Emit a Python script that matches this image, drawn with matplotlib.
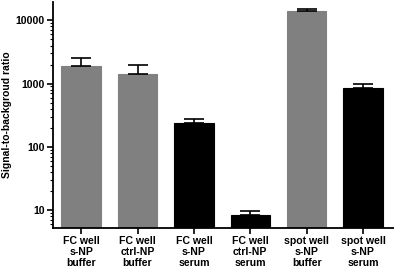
import numpy as np
import matplotlib
matplotlib.use("Agg")
import matplotlib.pyplot as plt
import matplotlib.ticker as plticker

plt.rcParams['font.family'] = ['Liberation Sans', 'DejaVu Sans']
plt.rcParams['font.weight'] = 'bold'

# bar labels and read-off values
labels = ["FC well\ns-NP\nbuffer", "FC well\nctrl-NP\nbuffer", "FC well\ns-NP\nserum",
          "FC well\nctrl-NP\nserum", "spot well\ns-NP\nbuffer", "spot well\ns-NP\nserum"]
values = [1870, 1430, 236, 8.3, 13900, 855]
errors = [670, 510, 37, 1.3, 1400, 135]
colors = ["#808080", "#808080", "black", "black", "#808080", "black"]

fig = plt.figure(figsize=(3.94, 2.68), dpi=100)
ax = fig.add_axes([0.1345, 0.149, 0.8655, 0.8435])

x = np.arange(len(values))
ax.bar(x, values, width=0.7, color=colors, edgecolor=colors, linewidth=0.8, zorder=2)
ax.errorbar(x, values, yerr=[np.zeros(len(errors)), errors], fmt='none',
            ecolor='black', elinewidth=1.2, capsize=7.5, capthick=1.2, zorder=3)

ax.set_yscale('log')
ax.set_ylim(5.2, 19500)
ax.set_xlim(-0.5, 5.55)
ax.yaxis.set_major_locator(plticker.LogLocator(base=10, numticks=10))
ax.yaxis.set_minor_locator(plticker.LogLocator(base=10, subs=np.arange(2, 10), numticks=10))
ax.yaxis.set_minor_formatter(plticker.NullFormatter())
ax.yaxis.set_major_formatter(plticker.FuncFormatter(lambda v, p: "%d" % v))
ax.set_xticks(x)
ax.set_xticklabels(labels, fontsize=7.6, fontweight='bold', linespacing=1.12)

ax.tick_params(axis='y', which='major', length=4, width=1.2, labelsize=7.6, pad=2)
ax.tick_params(axis='y', which='minor', length=2, width=0.8)
ax.tick_params(axis='x', length=4, width=1.2, pad=1.5)

for s in ['top', 'right']:
    ax.spines[s].set_visible(False)
for s in ['left', 'bottom']:
    ax.spines[s].set_linewidth(1.3)

ax.set_ylabel("Signal-to-backgroud ratio", fontsize=7.5, fontweight='bold')
ax.yaxis.set_label_coords(-0.12, 0.5)

fig.savefig("out.png", dpi=100)
